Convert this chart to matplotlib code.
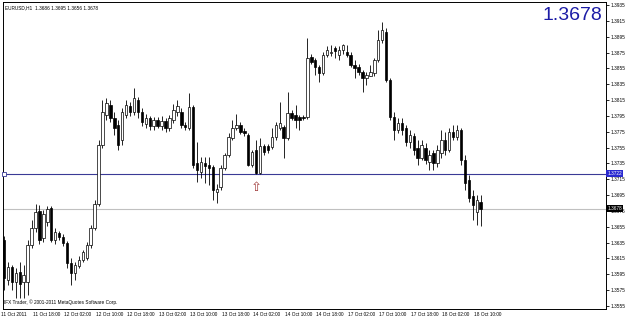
import numpy as np
import matplotlib
matplotlib.use('Agg')
import matplotlib.pyplot as plt
import matplotlib.transforms as mtrans

#%% data: EURUSD H1 candles
opens = [
    1.3638, 1.3588, 1.3604, 1.3585, 1.3598, 1.3585, 1.3585, 1.3632, 1.3653, 1.3675,
    1.3641, 1.3661, 1.3679, 1.3638, 1.3647, 1.3642, 1.3635, 1.3609, 1.3597, 1.3605,
    1.3613, 1.3616, 1.3632, 1.3653, 1.3684, 1.3758, 1.3796, 1.3809, 1.3792, 1.3784,
    1.3765, 1.3796, 1.3808, 1.3800, 1.3815, 1.3800, 1.3785, 1.3792, 1.3782, 1.3790,
    1.3782, 1.3789, 1.3780, 1.3790, 1.3800, 1.3800, 1.3784, 1.3780, 1.3806, 1.3736,
    1.3724, 1.3736, 1.3733, 1.3730, 1.3699, 1.3705, 1.3729, 1.3746, 1.3767, 1.3780,
    1.3784, 1.3776, 1.3771, 1.3733, 1.3752, 1.3723, 1.3757, 1.3757, 1.3756, 1.3768,
    1.3780, 1.3781, 1.3767, 1.3799, 1.3796, 1.3794, 1.3794, 1.3794, 1.3869, 1.3866,
    1.3857, 1.3849, 1.3872, 1.3874, 1.3881, 1.3872, 1.3878, 1.3876, 1.3872, 1.3859,
    1.3857, 1.3850, 1.3843, 1.3846, 1.3849, 1.3866, 1.3891, 1.3901, 1.3840, 1.3794,
    1.3777, 1.3786, 1.3780, 1.3762, 1.3770, 1.3754, 1.3742, 1.3754, 1.3737, 1.3748,
    1.3736, 1.3748, 1.3765, 1.3752, 1.3775, 1.3768, 1.3777, 1.3739, 1.3714, 1.3694,
    1.3674, 1.3686]
highs = [
    1.3643, 1.3611, 1.3607, 1.3603, 1.3611, 1.3607, 1.3638, 1.3664, 1.3684, 1.3683,
    1.3676, 1.3681, 1.3681, 1.3653, 1.3650, 1.3646, 1.3637, 1.3616, 1.3611, 1.3618,
    1.3626, 1.3636, 1.3657, 1.3689, 1.3765, 1.3815, 1.3818, 1.3815, 1.3800, 1.3790,
    1.3805, 1.3815, 1.3812, 1.3830, 1.3819, 1.3805, 1.3797, 1.3795, 1.3794, 1.3794,
    1.3795, 1.3792, 1.3796, 1.3810, 1.3815, 1.3805, 1.3787, 1.3824, 1.3809, 1.3762,
    1.3743, 1.3743, 1.3743, 1.3733, 1.3709, 1.3733, 1.3748, 1.3773, 1.3790, 1.3797,
    1.3787, 1.3780, 1.3773, 1.3752, 1.3765, 1.3767, 1.3760, 1.3760, 1.3780, 1.3787,
    1.3812, 1.3784, 1.3825, 1.3802, 1.3809, 1.3796, 1.3796, 1.3893, 1.3873, 1.3868,
    1.3859, 1.3876, 1.3883, 1.3884, 1.3883, 1.3883, 1.3886, 1.3884, 1.3876, 1.3866,
    1.3860, 1.3853, 1.3850, 1.3859, 1.3868, 1.3903, 1.3914, 1.3906, 1.3843, 1.3800,
    1.3792, 1.3792, 1.3784, 1.3777, 1.3773, 1.3765, 1.3765, 1.3761, 1.3752, 1.3752,
    1.3758, 1.3777, 1.3775, 1.3780, 1.3784, 1.3784, 1.3780, 1.3746, 1.3720, 1.3701,
    1.3695, 1.3695]
lows = [
    1.3575, 1.3582, 1.3575, 1.3565, 1.3565, 1.3565, 1.3569, 1.3628, 1.3648, 1.3633,
    1.3636, 1.3656, 1.3636, 1.3633, 1.3638, 1.3631, 1.3603, 1.3582, 1.3588, 1.3603,
    1.3611, 1.3613, 1.3628, 1.3651, 1.3681, 1.3754, 1.3790, 1.3787, 1.3771, 1.3752,
    1.3758, 1.3792, 1.3795, 1.3796, 1.3792, 1.3782, 1.3780, 1.3777, 1.3777, 1.3780,
    1.3777, 1.3775, 1.3776, 1.3786, 1.3795, 1.3780, 1.3777, 1.3777, 1.3729, 1.3712,
    1.3717, 1.3710, 1.3708, 1.3689, 1.3685, 1.3701, 1.3727, 1.3743, 1.3765, 1.3777,
    1.3772, 1.3770, 1.3732, 1.3730, 1.3722, 1.3722, 1.3746, 1.3748, 1.3753, 1.3765,
    1.3777, 1.3742, 1.3765, 1.3790, 1.3780, 1.3777, 1.3790, 1.3791, 1.3860, 1.3847,
    1.3838, 1.3847, 1.3869, 1.3871, 1.3868, 1.3866, 1.3873, 1.3869, 1.3857, 1.3843,
    1.3847, 1.3825, 1.3834, 1.3845, 1.3845, 1.3863, 1.3887, 1.3838, 1.3790, 1.3765,
    1.3773, 1.3771, 1.3757, 1.3754, 1.3746, 1.3733, 1.3739, 1.3734, 1.3727, 1.3727,
    1.3730, 1.3742, 1.3746, 1.3749, 1.3765, 1.3765, 1.3733, 1.3701, 1.3686, 1.3664,
    1.3657, 1.3656]
closes = [
    1.3590, 1.3604, 1.3585, 1.3597, 1.3583, 1.3594, 1.3632, 1.3653, 1.3674, 1.3638,
    1.3671, 1.3677, 1.3638, 1.3648, 1.3642, 1.3635, 1.3609, 1.3597, 1.3607, 1.3613,
    1.3623, 1.3632, 1.3653, 1.3684, 1.3758, 1.3800, 1.3811, 1.3792, 1.3780, 1.3758,
    1.3800, 1.3809, 1.3800, 1.3818, 1.3800, 1.3787, 1.3792, 1.3782, 1.3790, 1.3782,
    1.3789, 1.3780, 1.3792, 1.3802, 1.3808, 1.3784, 1.3781, 1.3806, 1.3733, 1.3727,
    1.3737, 1.3732, 1.3729, 1.3701, 1.3703, 1.3729, 1.3746, 1.3768, 1.3780, 1.3784,
    1.3775, 1.3773, 1.3733, 1.3749, 1.3723, 1.3757, 1.3749, 1.3752, 1.3768, 1.3784,
    1.3786, 1.3767, 1.3799, 1.3792, 1.3790, 1.3790, 1.3792, 1.3868, 1.3863, 1.3857,
    1.3849, 1.3872, 1.3878, 1.3876, 1.3877, 1.3878, 1.3884, 1.3872, 1.3859, 1.3855,
    1.3850, 1.3843, 1.3847, 1.3850, 1.3866, 1.3891, 1.3903, 1.3840, 1.3794, 1.3777,
    1.3786, 1.3777, 1.3762, 1.3771, 1.3752, 1.3742, 1.3758, 1.3739, 1.3746, 1.3736,
    1.3752, 1.3765, 1.3752, 1.3775, 1.3768, 1.3777, 1.3739, 1.3710, 1.3691, 1.3683,
    1.3689, 1.3678]

time_ticks = [0, 8, 16, 24, 32, 40, 48, 56, 64, 72, 80, 88, 96, 104, 112, 120]
time_labels = ['11 Oct 2011', '11 Oct 18:00', '12 Oct 02:00', '12 Oct 10:00',
               '12 Oct 18:00', '13 Oct 02:00', '13 Oct 10:00', '13 Oct 18:00',
               '14 Oct 02:00', '14 Oct 10:00', '14 Oct 18:00', '17 Oct 02:00',
               '17 Oct 10:00', '17 Oct 18:00', '18 Oct 02:00', '18 Oct 10:00']
price_ticks = [1.3555, 1.3575, 1.3595, 1.3615, 1.3635, 1.3655, 1.3675, 1.3695,
               1.3715, 1.3735, 1.3755, 1.3775, 1.3795, 1.3815, 1.3835, 1.3855,
               1.3875, 1.3895, 1.3915, 1.3935]
hline_level = 1.3722
bid = 1.3678
arrow_bar = 64
arrow_price = 1.3705
title = 'EURUSD,H1  1.3686 1.3695 1.3656 1.3678'

#%% plot
small = dict(fontsize=3.4, family='Liberation Sans')
o = np.array(opens); h = np.array(highs); l = np.array(lows); c = np.array(closes)
x = np.arange(len(o))
up = c >= o

fig = plt.figure(figsize=(6.25, 3.19), dpi=100)
ax = fig.add_axes([3/625, 10/319, 603/625, 307/319])
ax.set_xlim(-0.25, 152.8)
ax.set_ylim(1.35512, 1.39388)

ax.axhline(bid, color='#c0c0c0', lw=0.8, zorder=1)
ax.axhline(hline_level, color='#3a3a96', lw=0.8, zorder=1)
ax.plot([0.0], [hline_level], marker='s', ms=2.5, mfc='white', mec='#3a3a96', mew=0.6, clip_on=False, zorder=5)

ax.vlines(x, l, h, color='black', lw=0.6, zorder=2)
bw = 0.62
ax.bar(x[up], np.maximum(c[up] - o[up], 0.00002), bottom=o[up], width=bw,
       facecolor='white', edgecolor='black', linewidth=0.5, zorder=3)
ax.bar(x[~up], np.maximum(o[~up] - c[~up], 0.00002), bottom=c[~up], width=bw,
       facecolor='black', edgecolor='black', linewidth=0.5, zorder=3)

ax.text(arrow_bar, arrow_price, '\u21e7', color='#a03c3c', fontsize=9.5,
        ha='center', va='center', zorder=4)

# axes and labels
for s in ax.spines.values():
    s.set_linewidth(0.7)
    s.set_color('black')
ax.yaxis.tick_right()
ax.set_yticks(price_ticks)
ax.set_yticklabels(['%.4f' % p for p in price_ticks], **small)
ax.tick_params(axis='y', direction='out', length=2, width=0.6, pad=1)
ax.set_xticks(time_ticks)
ax.set_xticklabels(time_labels, **small)
ax.tick_params(axis='x', direction='out', length=0, pad=2)
shift = mtrans.ScaledTranslation(-3/100, 0, fig.dpi_scale_trans)
for lab in ax.get_xticklabels():
    lab.set_horizontalalignment('left')
    lab.set_transform(lab.get_transform() + shift)

ymark = mtrans.blended_transform_factory(ax.transAxes, ax.transData)
ax.text(1.002, hline_level, '%.4f' % hline_level, transform=ymark,
        color='white', ha='left', va='center', zorder=6, **small,
        bbox=dict(boxstyle='square,pad=0.2', facecolor='#2a2ad0', edgecolor='none'))
ax.text(1.002, bid, '%.4f' % bid, transform=ymark,
        color='white', ha='left', va='center', zorder=6, **small,
        bbox=dict(boxstyle='square,pad=0.2', facecolor='black', edgecolor='none'))

ax.text(0.004, 0.988, title, transform=ax.transAxes, ha='left', va='top', **small)
ax.text(0.993, 0.985, '%.4f' % bid, transform=ax.transAxes, fontsize=14,
        family='Liberation Sans', color='#1c1ca6', ha='right', va='top')
ax.text(0.002, 0.012, 'IFX Trader, \u00a9 2001-2011 MetaQuotes Software Corp.',
        transform=ax.transAxes, ha='left', va='bottom', **small)

fig.savefig('out.png', dpi=100)
